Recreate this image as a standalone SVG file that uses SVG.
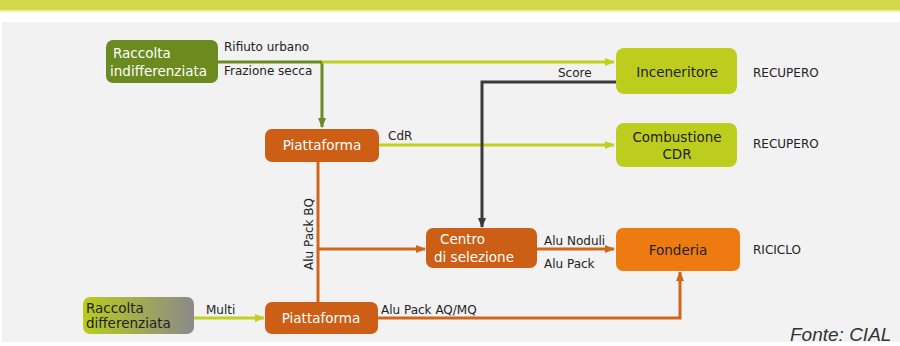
<svg xmlns="http://www.w3.org/2000/svg" width="900" height="346" viewBox="0 0 900 346">
<defs>
<style>
.lbl{font-family:"DejaVu Sans","Liberation Sans",sans-serif;font-size:12px;fill:#222}
.nt{font-family:"DejaVu Sans","Liberation Sans",sans-serif;font-size:13.5px}
.w{fill:#fff}
.d{fill:#222}
</style>
<linearGradient id="gdiff" x1="0" y1="0" x2="1" y2="0">
<stop offset="0" stop-color="#b9cc1c"/>
<stop offset="1" stop-color="#8a8a8a"/>
</linearGradient>
<marker id="aY" markerWidth="10" markerHeight="8" refX="9" refY="4" orient="auto" markerUnits="userSpaceOnUse"><path d="M0,0 L10,4 L0,8 Z" fill="#c3cf1e"/></marker>
<marker id="aO" markerWidth="10" markerHeight="8" refX="9" refY="4" orient="auto" markerUnits="userSpaceOnUse"><path d="M0,0 L10,4 L0,8 Z" fill="#d0661a"/></marker>
<marker id="aK" markerWidth="10" markerHeight="8" refX="9" refY="4" orient="auto" markerUnits="userSpaceOnUse"><path d="M0,0 L10,4 L0,8 Z" fill="#3a3a3a"/></marker>
<marker id="aG" markerWidth="10" markerHeight="8" refX="9" refY="4" orient="auto" markerUnits="userSpaceOnUse"><path d="M0,0 L10,4 L0,8 Z" fill="#6b8a1f"/></marker>
</defs>
<rect x="0" y="0" width="900" height="346" fill="#ffffff"/>
<rect x="0" y="0" width="900" height="10" fill="#d4d84a"/>
<rect x="0" y="10" width="900" height="2" fill="#eef0a8"/>
<rect x="2" y="22" width="898" height="320" fill="#f2f2f2"/>

<g id="connectors" fill="none">
<path d="M218,62 H322" stroke="#6b8a1f" stroke-width="3"/>
<path d="M322,62 V127" stroke="#6b8a1f" stroke-width="3" marker-end="url(#aG)"/>
<path d="M322,62 H614" stroke="#c3cf1e" stroke-width="3" marker-end="url(#aY)"/>
<path d="M379,145 H614" stroke="#c3cf1e" stroke-width="3" marker-end="url(#aY)"/>
<path d="M616,82 H482 V227" stroke="#3a3a3a" stroke-width="3" marker-end="url(#aK)"/>
<path d="M318,162 V302" stroke="#d0661a" stroke-width="3"/>
<path d="M318,249 H425" stroke="#d0661a" stroke-width="3" marker-end="url(#aO)"/>
<path d="M537,249 H614" stroke="#d0661a" stroke-width="3" marker-end="url(#aO)"/>
<path d="M378,318 H680 V272" stroke="#d0661a" stroke-width="3" marker-end="url(#aO)"/>
<path d="M194,318 H264" stroke="#c3cf1e" stroke-width="3" marker-end="url(#aY)"/>
</g>

<g id="raccolta-indifferenziata">
<rect x="106" y="40" width="112" height="43" rx="7" fill="#6b8a1f"/>
<text class="nt w" x="113" y="58">Raccolta</text>
<text class="nt w" x="110" y="76">indifferenziata</text>
</g>
<g id="piattaforma1">
<rect x="265" y="129" width="114" height="33" rx="7" fill="#cc5f15"/>
<text class="nt w" x="322" y="150" text-anchor="middle">Piattaforma</text>
</g>
<g id="inceneritore">
<rect x="616" y="48" width="121" height="46" rx="8" fill="#bccd1e"/>
<text class="nt d" x="677" y="77" text-anchor="middle">Inceneritore</text>
</g>
<g id="combustione">
<rect x="616" y="123" width="121" height="44" rx="8" fill="#bccd1e"/>
<text class="nt d" x="677" y="142" text-anchor="middle">Combustione</text>
<text class="nt d" x="677" y="159" text-anchor="middle">CDR</text>
</g>
<g id="centro">
<rect x="426" y="228" width="111" height="40" rx="7" fill="#cc5f15"/>
<text class="nt w" x="440" y="244">Centro</text>
<text class="nt w" x="434" y="262">di selezione</text>
</g>
<g id="fonderia">
<rect x="616" y="228" width="124" height="43" rx="7" fill="#ee7b12"/>
<text class="nt d" x="678" y="255" text-anchor="middle">Fonderia</text>
</g>
<g id="piattaforma2">
<rect x="265" y="302" width="113" height="32" rx="7" fill="#cc5f15"/>
<text class="nt w" x="321" y="323" text-anchor="middle">Piattaforma</text>
</g>
<g id="raccolta-differenziata">
<rect x="83" y="297" width="111" height="37" rx="7" fill="url(#gdiff)"/>
<text class="nt d" x="86" y="313">Raccolta</text>
<text class="nt d" x="86" y="328">differenziata</text>
</g>

<g id="labels">
<text class="lbl" x="224" y="51">Rifiuto urbano</text>
<text class="lbl" x="224" y="75">Frazione secca</text>
<text class="lbl" x="558" y="77">Score</text>
<text class="lbl" x="388" y="140">CdR</text>
<text class="lbl" x="544" y="245">Alu Noduli</text>
<text class="lbl" x="544" y="268">Alu Pack</text>
<text class="lbl" x="381" y="314">Alu Pack AQ/MQ</text>
<text class="lbl" x="206" y="314">Multi</text>
<text class="lbl" transform="translate(313,270) rotate(-90)">Alu Pack BQ</text>
<text class="lbl" x="753" y="77">RECUPERO</text>
<text class="lbl" x="753" y="148">RECUPERO</text>
<text class="lbl" x="753" y="254">RICICLO</text>
<text x="790" y="341" font-family="Liberation Sans,Arial,sans-serif" font-size="19" font-style="italic" fill="#333">Fonte: CIAL</text>
</g>
</svg>
